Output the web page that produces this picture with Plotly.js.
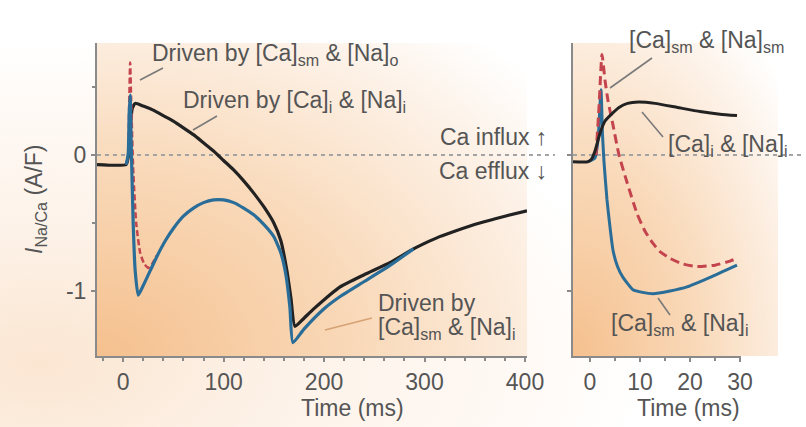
<!DOCTYPE html>
<html><head><meta charset="utf-8">
<script src="https://cdn.plot.ly/plotly-3.0.1.min.js"></script>
<style>html,body{margin:0;padding:0;background:#fff}</style>
</head><body><div id="chart" style="width:806px;height:427px"></div>
<script>
// ---------- Data: left panel (0–400 ms) ----------
const leftBlackT = [-26, 3, 5, 7, 9, 12, 20, 30, 40, 50, 60, 70, 80, 90, 100, 110, 120, 130, 140, 150, 157, 163, 167, 171, 180, 190, 216, 240, 266, 289, 300, 315, 330, 355, 380, 402];
const leftBlackY = [-0.07, -0.07, -0.02, 0.18, 0.34, 0.38, 0.36, 0.33, 0.29, 0.25, 0.20, 0.15, 0.09, 0.03, -0.04, -0.11, -0.19, -0.28, -0.38, -0.50, -0.63, -0.85, -1.05, -1.26, -1.20, -1.13, -0.97, -0.88, -0.79, -0.69, -0.65, -0.60, -0.56, -0.50, -0.45, -0.41];

const leftBlueT = [3, 5, 6, 7, 8, 10, 12, 15, 20, 27, 34, 42, 50, 60, 70, 80, 90, 100, 110, 120, 130, 140, 150, 157, 162, 166, 169, 180, 200, 216, 240, 266, 289];
const leftBlueY = [-0.07, 0.0, 0.3, 0.44, 0.1, -0.5, -0.85, -1.03, -0.96, -0.85, -0.74, -0.63, -0.54, -0.45, -0.39, -0.35, -0.33, -0.33, -0.35, -0.39, -0.44, -0.51, -0.60, -0.72, -0.88, -1.12, -1.38, -1.28, -1.13, -1.04, -0.93, -0.81, -0.69];

const leftRedT = [3, 5, 6, 7, 8, 10, 13, 17, 21, 25, 29, 33];
const leftRedY = [-0.07, 0.0, 0.35, 0.68, 0.4, -0.1, -0.5, -0.72, -0.80, -0.83, -0.80, -0.74];

// ---------- Data: right panel (0–30 ms) ----------
const rightBlackT = [-3.4, -0.5, 0.3, 1.0, 2.0, 3.0, 4.0, 5.8, 7.5, 9.7, 13, 17.5, 22, 26, 29.4];
const rightBlackY = [-0.05, -0.05, -0.03, 0.03, 0.16, 0.25, 0.29, 0.35, 0.38, 0.39, 0.38, 0.35, 0.32, 0.30, 0.29];

const rightBlueT = [-0.5, 1.0, 1.6, 2.2, 2.5, 2.8, 3.4, 4.0, 4.6, 5.5, 6.6, 8.6, 10.5, 12.6, 16, 19.4, 24, 29.4];
const rightBlueY = [-0.05, -0.02, 0.11, 0.48, 0.15, -0.05, -0.33, -0.53, -0.70, -0.82, -0.90, -0.99, -1.01, -1.02, -1.0, -0.97, -0.90, -0.81];

const rightRedT = [1.2, 1.8, 2.4, 3.0, 3.6, 4.6, 5.8, 7.4, 9.4, 11, 12.6, 14, 16, 18.5, 21.4, 25, 28, 29.4];
const rightRedY = [0.0, 0.35, 0.74, 0.55, 0.40, 0.22, 0.0, -0.2, -0.43, -0.56, -0.65, -0.71, -0.76, -0.80, -0.82, -0.81, -0.78, -0.76];

// ---------- Tick labels ----------
const leftXTicks = [0, 100, 200, 300, 400];
const rightXTicks = [0, 10, 20, 30];
const yTickVals = [0, -1];
const yTickText = ['0', '-1'];

// ---------- Styles ----------
const W = 806, H = 427;
const px = x => x / W, py = y => 1 - y / H;
const TXT = '#555555', AX = '#8a8a8a';
const FONT = 'Liberation Sans, Arial, sans-serif';
const BLACK = '#222222', BLUE = '#2a6d98', RED = '#c4444e';

function grad(c0, c1, c2, cx, cy, r) {
  const s = "<svg xmlns='http://www.w3.org/2000/svg' viewBox='0 0 100 100' preserveAspectRatio='none'>" +
    "<defs><radialGradient id='g' cx='" + cx + "' cy='" + cy + "' r='" + r + "'>" +
    "<stop offset='0' stop-color='" + c0 + "'/><stop offset='0.45' stop-color='" + c1 + "'/>" +
    "<stop offset='0.82' stop-color='" + c2 + "'/><stop offset='1' stop-color='#ffffff'/></radialGradient></defs>" +
    "<rect width='100' height='100' fill='url(#g)'/></svg>";
  return 'data:image/svg+xml;base64,' + btoa(s);
}

const lineStyle = (c, w, dash) => ({color: c, width: w, dash: dash || 'solid', shape: 'spline', smoothing: 0.5});
const traces = [
  {x: leftBlackT, y: leftBlackY, xaxis: 'x', yaxis: 'y', mode: 'lines', line: lineStyle(BLACK, 3.2), hoverinfo: 'skip'},
  {x: leftRedT, y: leftRedY, xaxis: 'x', yaxis: 'y', mode: 'lines', line: lineStyle(RED, 2.5, '6px,3px'), hoverinfo: 'skip'},
  {x: leftBlueT, y: leftBlueY, xaxis: 'x', yaxis: 'y', mode: 'lines', line: lineStyle(BLUE, 3.2), hoverinfo: 'skip'},
  {x: rightBlueT, y: rightBlueY, xaxis: 'x2', yaxis: 'y2', mode: 'lines', line: lineStyle(BLUE, 3), hoverinfo: 'skip'},
  {x: rightRedT, y: rightRedY, xaxis: 'x2', yaxis: 'y2', mode: 'lines', line: lineStyle(RED, 3, '9px,5px'), hoverinfo: 'skip'},
  {x: rightBlackT, y: rightBlackY, xaxis: 'x2', yaxis: 'y2', mode: 'lines', line: lineStyle(BLACK, 3), hoverinfo: 'skip'}
];

const axisCommon = {
  showline: true, linecolor: AX, linewidth: 2, ticks: 'outside', tickcolor: AX, ticklen: 4, tickwidth: 2,
  showgrid: false, zeroline: false, tickfont: {family: FONT, size: 23, color: TXT}, fixedrange: true
};
const yRange = [-1.478, 0.824];
const yDomain = [py(356), py(43)];

const line = (x0, y0, x1, y1, c) => ({type: 'line', xref: 'paper', yref: 'paper', x0: px(x0), y0: py(y0), x1: px(x1), y1: py(y1), line: {color: c || '#7a7a7a', width: 1.6}});
const ann = (text, x, y, xa, extra) => Object.assign({text: text, xref: 'paper', yref: 'paper', x: px(x), y: py(y), xanchor: xa, yanchor: 'middle', showarrow: false, font: {family: FONT, size: 23, color: TXT}}, extra || {});

const layout = {
  width: W, height: H, margin: {l: 0, r: 0, t: 0, b: 0},
  paper_bgcolor: '#ffffff', plot_bgcolor: 'rgba(0,0,0,0)', showlegend: false,
  xaxis: Object.assign({}, axisCommon, {domain: [px(97), px(527)], range: [-26, 402], anchor: 'y', tickvals: leftXTicks,
    minor: {dtick: 20, ticks: 'outside', ticklen: 3, tickcolor: AX, showgrid: false}}),
  yaxis: Object.assign({}, axisCommon, {domain: yDomain, range: yRange, anchor: 'x', tickvals: yTickVals, ticktext: yTickText,
    minor: {dtick: 0.5, ticks: 'outside', ticklen: 3, tickcolor: AX, showgrid: false}}),
  xaxis2: Object.assign({}, axisCommon, {domain: [px(573), px(741)], range: [-3.4, 30.2], anchor: 'y2', tickvals: rightXTicks,
    minor: {dtick: 5, ticks: 'outside', ticklen: 3, tickcolor: AX, showgrid: false}}),
  yaxis2: Object.assign({}, axisCommon, {domain: yDomain, range: yRange, anchor: 'x2', tickvals: [0, -1], showticklabels: false}),
  images: [
    {source: grad('#fbe6d2', '#fdf3ea', '#fffaf6', 0.05, 0.85, 0.75), xref: 'paper', yref: 'paper', x: 0, y: 1, sizex: 1, sizey: 1, sizing: 'stretch', layer: 'below', xanchor: 'left', yanchor: 'top'},
    {source: grad('#f5c08e', '#f9d9b9', '#fdf2e8', 0, 1, 1.35), xref: 'paper', yref: 'paper', x: px(97), y: py(43), sizex: px(430), sizey: 313 / H, sizing: 'stretch', layer: 'below', xanchor: 'left', yanchor: 'top'},
    {source: grad('#f5c08e', '#f9d9b9', '#fdf2e8', 0, 1, 1.35), xref: 'paper', yref: 'paper', x: px(573), y: py(43), sizex: px(205), sizey: 313 / H, sizing: 'stretch', layer: 'below', xanchor: 'left', yanchor: 'top'}
  ],
  shapes: [
    {type: 'line', xref: 'x domain', yref: 'y', x0: 0, x1: 1.065, y0: 0, y1: 0, layer: 'below', line: {color: '#a3a3a3', width: 2, dash: '4px,4px'}},
    {type: 'line', xref: 'x2 domain', yref: 'y2', x0: 0, x1: 1.36, y0: 0, y1: 0, layer: 'below', line: {color: '#a3a3a3', width: 2, dash: '4px,4px'}},
    line(140, 80, 163, 68),
    line(193, 130, 217, 116),
    line(325, 330, 372, 318, '#d6a274'),
    line(610, 88, 652, 58),
    line(642, 112, 663, 137),
    line(658, 298, 670, 315)
  ],
  annotations: [
    ann('Driven by [Ca]<sub>sm</sub> & [Na]<sub>o</sub>', 150, 54, 'left'),
    ann('Driven by [Ca]<sub>i</sub> & [Na]<sub>i</sub>', 181, 101, 'left'),
    ann('Ca influx \u2191', 549, 137, 'right'),
    ann('Ca efflux \u2193', 549, 171, 'right'),
    ann('Driven by', 376, 303, 'left'),
    ann('[Ca]<sub>sm</sub> & [Na]<sub>i</sub>', 376, 328, 'left'),
    ann('[Ca]<sub>sm</sub> & [Na]<sub>sm</sub>', 627, 41, 'left'),
    ann('[Ca]<sub>i</sub> & [Na]<sub>i</sub>', 666, 146, 'left'),
    ann('[Ca]<sub>sm</sub> & [Na]<sub>i</sub>', 609, 324, 'left'),
    ann('Time (ms)', 352, 408, 'center'),
    ann('Time (ms)', 688, 408, 'center'),
    ann('<i>I</i><sub>Na/Ca</sub> (A/F)', 35, 199, 'center', {textangle: -90, xanchor: 'center'})
  ]
};

Plotly.newPlot('chart', traces, layout, {staticPlot: true, displayModeBar: false});
</script></body></html>
